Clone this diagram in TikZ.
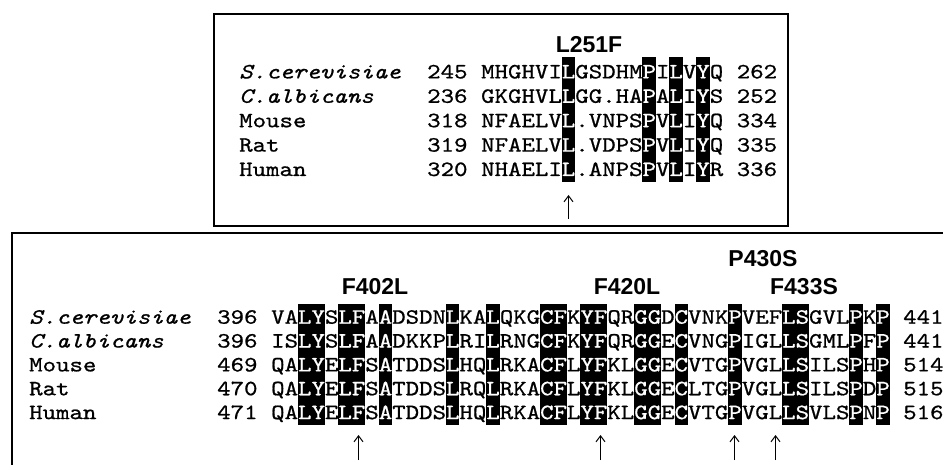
\documentclass[tikz,border=0pt]{standalone}
\usepackage{fontspec}
\usetikzlibrary{arrows.meta}
\newfontfamily\seqfont{lmmono10-regular.otf}[FakeStretch=1.175, FakeBold=0.8, ItalicFont=lmmono10-italic.otf]
\newfontfamily\labfont{Liberation Sans}
\newcommand{\hl}[1]{\textcolor{white}{#1}}
\begin{document}
\begin{tikzpicture}[x=1pt, y=-1pt,
    seq/.style={anchor=base west, inner sep=0pt, font=\seqfont\fontsize{21.8}{24}\selectfont},
    mutlabel/.style={inner sep=0pt, font=\labfont\bfseries\fontsize{23}{24}\selectfont},
    frame/.style={line width=1.6pt},
    hitarrow/.style={line width=1pt, -{Straight Barb[length=6pt, width=9pt]}}]
  \useasboundingbox (0,0) rectangle (943,465);
  \def\cw{13.45}
  % upper alignment
  \draw[frame] (214,14) rectangle (788,226);
  \foreach \c in {7,13,15,17}
    \fill ({481+(\c-1)*\cw},57) rectangle ({481+\c*\cw},182);
  \foreach \nm/\st/\sq/\en [count=\r from 0] in {
      \textit{S.cerevisiae}/245/MHGHVI\hl{L}GSDHM\hl{P}I\hl{L}V\hl{Y}Q/262,
      \textit{C.albicans}/236/GKGHVL\hl{L}GG.HA\hl{P}A\hl{L}I\hl{Y}S/252,
      Mouse/318/NFAELV\hl{L}.VNPS\hl{P}V\hl{L}I\hl{Y}Q/334,
      Rat/319/NFAELV\hl{L}.VDPS\hl{P}V\hl{L}I\hl{Y}Q/335,
      Human/320/NHAELI\hl{L}.ANPS\hl{P}V\hl{L}I\hl{Y}R/336} {
    \pgfmathsetmacro\yy{78.4+\r*24.4}
    \node[seq] (up-nm-\r) at (239,\yy) {\nm};
    \node[seq] (up-st-\r) at (427,\yy) {\st};
    \node[seq] (up-sq-\r) at (481,\yy) {\sq};
    \node[seq] (up-en-\r) at (736.6,\yy) {\en};
  }
  \node[mutlabel] (l251f) at (589,45) {L251F};
  \draw[hitarrow] (568.5,219) -- (568.5,195);

  % lower alignment
  \draw[frame] (11.7,465) -- (11.7,233) -- (943,233);
  \foreach \c in {3,4,6,7,9,14,17,21,22,24,25,28,29,31,35,39,40,44,46}
    \fill ({271+(\c-1)*\cw},304) rectangle ({271+\c*\cw},425);
  \foreach \nm/\st/\sq/\en [count=\r from 0] in {
      \textit{S.cerevisiae}/396/VA\hl{LY}S\hl{LF}A\hl{A}DSDN\hl{L}KA\hl{L}QKG\hl{CF}K\hl{YF}QR\hl{GG}D\hl{C}VNK\hl{P}VEF\hl{LS}GVL\hl{P}K\hl{P}/441,
      \textit{C.albicans}/396/IS\hl{LY}S\hl{LF}A\hl{A}DKKP\hl{L}RI\hl{L}RNG\hl{CF}K\hl{YF}QR\hl{GG}E\hl{C}VNG\hl{P}IGL\hl{LS}GML\hl{P}F\hl{P}/441,
      Mouse/469/QA\hl{LY}E\hl{LF}S\hl{A}TDDS\hl{L}HQ\hl{L}RKA\hl{CF}L\hl{YF}KL\hl{GG}E\hl{C}VTG\hl{P}VGL\hl{LS}ILS\hl{P}H\hl{P}/514,
      Rat/470/QA\hl{LY}E\hl{LF}S\hl{A}TDDS\hl{L}RQ\hl{L}RKA\hl{CF}L\hl{YF}KL\hl{GG}E\hl{C}LTG\hl{P}VGL\hl{LS}ILS\hl{P}D\hl{P}/515,
      Human/471/QA\hl{LY}E\hl{LF}S\hl{A}TDDS\hl{L}HQ\hl{L}RKA\hl{CF}L\hl{YF}KL\hl{GG}E\hl{C}VTG\hl{P}VGL\hl{LS}VLS\hl{P}N\hl{P}/516} {
    \pgfmathsetmacro\yy{323.7+\r*23.85}
    \node[seq] (lo-nm-\r) at (29,\yy) {\nm};
    \node[seq] (lo-st-\r) at (217,\yy) {\st};
    \node[seq] (lo-sq-\r) at (271,\yy) {\sq};
    \node[seq] (lo-en-\r) at (903,\yy) {\en};
  }
  \node[mutlabel] (f402l) at (375,287) {F402L};
  \node[mutlabel] (f420l) at (627,287) {F420L};
  \node[mutlabel] (p430s) at (763,259) {P430S};
  \node[mutlabel] (f433s) at (804,287) {F433S};
  \foreach \x in {358.5,600.5,734.5,775.5}
    \draw[hitarrow] (\x,460) -- (\x,435);
\end{tikzpicture}
\end{document}
